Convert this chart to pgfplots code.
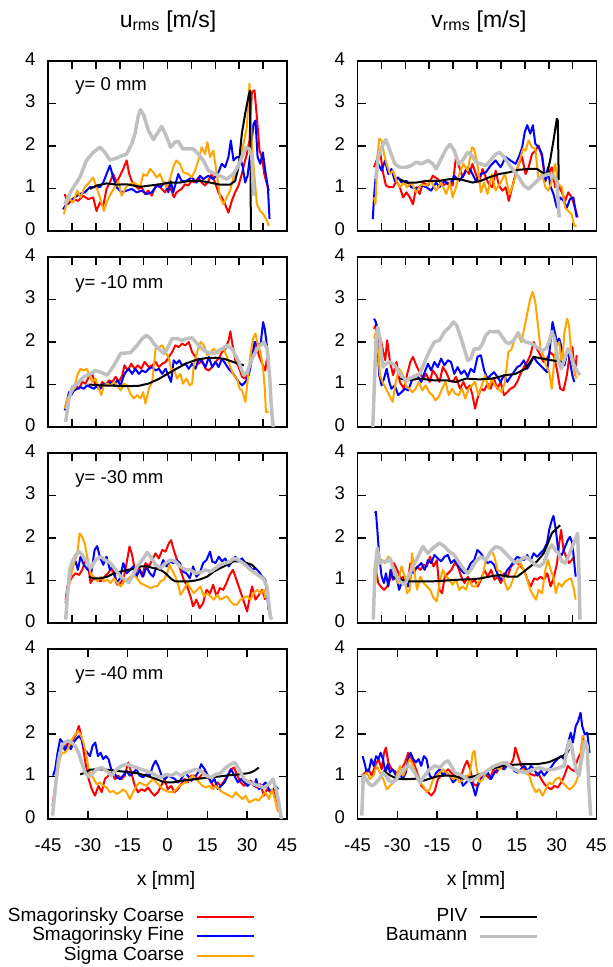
\documentclass[border=0pt]{standalone}
\usepackage{fontspec}
\setmainfont{Liberation Sans}
\usepackage{pgfplots}
\pgfplotsset{compat=1.18}

\definecolor{smcred}{RGB}{255,0,0}
\definecolor{smfblue}{RGB}{0,0,255}
\definecolor{sgcorange}{RGB}{255,165,0}
\definecolor{baugray}{RGB}{192,192,192}

\tikzset{ylab/.style={anchor=west, font=\fontsize{18.5}{20}\selectfont}}

\pgfplotsset{
  panel/.style={
    scale only axis, width=239pt, height=170pt, anchor=north west,
    ymin=0, ymax=4, ytick={0,1,2,3,4},
    tick align=inside, major tick length=8pt,
    axis line style={line width=1.7pt},
    tick style={black, line width=1.6pt},
    tick label style={font=\fontsize{18.5}{20}\selectfont},
    /pgf/number format/assume math mode=true,
    yticklabel style={xshift=-9pt, yshift=2pt},
  },
  upper/.style={panel, xmin=-50, xmax=50, xtick={-40,-30,...,40}, xticklabels={}},
  lower/.style={panel, xmin=-45, xmax=45, xtick={-45,-30,...,45},
    xticklabel style={anchor=base, yshift=-32pt}},
  smc/.style={smcred, line width=2pt, line join=round},
  smf/.style={smfblue, line width=2pt, line join=round},
  sgc/.style={sgcorange, line width=2pt, line join=round},
  piv/.style={black, line width=2pt, line join=round},
  bau/.style={baugray, line width=3.5pt, line join=round},
  leg/.style={
    legend plot pos=right, legend cell align=right,
    legend image code/.code={\draw[##1] (0pt,0pt) -- (57pt,0pt);},
    legend style={draw=none, fill=none, inner sep=0pt, outer sep=0pt,
      font=\fontsize{19}{21}\selectfont, column sep=11pt, row sep=0pt,
      nodes={text height=13.8pt, text depth=5pt, inner sep=0.4pt}},
  },
}

\begin{document}
\begin{tikzpicture}
\useasboundingbox (0pt,0pt) rectangle (613pt,-967pt);

\node[anchor=base, font=\fontsize{23}{26}\selectfont] at (168pt,-27pt) {u\textsubscript{rms} [m/s]};
\node[anchor=base, font=\fontsize{23}{26}\selectfont] at (479pt,-27pt) {v\textsubscript{rms} [m/s]};

% ---------------- y = 0 mm, u_rms ----------------
\begin{axis}[upper, at={(48pt,-61pt)}]
\addplot[smc] coordinates {(-43.0,0.87) (-41.6,0.63) (-39.5,0.75) (-37.4,0.71) (-35.3,0.83) (-33.2,0.75) (-31.1,0.79) (-29.7,0.47) (-28.3,0.67) (-26.9,0.59) (-25.5,0.99) (-24.1,1.14) (-22.7,1.34) (-21.3,1.14) (-19.9,1.30) (-18.5,1.46) (-17.1,1.66) (-16.0,1.34) (-15.0,1.18) (-13.6,1.07) (-12.2,0.99) (-10.8,1.03) (-9.4,0.87) (-8.0,0.95) (-6.6,0.83) (-5.2,1.03) (-3.8,1.10) (-2.4,0.99) (-1.0,0.91) (0.35,1.07) (1.7,0.95) (2.7,0.79) (3.8,0.91) (5.9,0.99) (7.3,1.10) (8.7,1.07) (10.1,1.18) (11.5,1.14) (12.9,1.26) (14.3,1.14) (15.7,1.07) (17.1,1.18) (18.5,1.34) (19.9,1.14) (21.3,0.91) (22.7,0.79) (24.1,0.63) (25.5,0.43) (26.9,0.71) (28.3,0.91) (29.7,1.07) (31.1,1.34) (32.1,1.58) (33.2,1.81) (34.3,2.13) (35.3,3.27) (36.4,3.31) (37.4,2.68) (38.5,1.89) (39.5,1.74) (40.5,1.34) (41.6,1.10) (42.4,0.95)};
\addplot[smf] coordinates {(-43.7,0.51) (-42.3,0.63) (-40.9,0.71) (-38.8,0.79) (-36.7,0.87) (-34.6,0.91) (-32.5,1.03) (-30.4,1.03) (-28.3,1.03) (-26.9,1.14) (-25.5,1.34) (-24.1,1.54) (-22.7,1.26) (-21.3,1.03) (-19.2,0.91) (-17.1,0.95) (-15.0,0.99) (-12.9,0.91) (-10.8,0.95) (-8.7,0.87) (-6.6,0.91) (-4.5,1.07) (-3.1,1.03) (-1.0,1.14) (0.35,0.91) (1.3,1.18) (2.4,0.91) (4.5,1.34) (5.9,1.18) (8.0,1.18) (10.1,1.26) (12.2,1.14) (13.6,1.30) (15.0,1.22) (17.1,1.30) (19.2,1.22) (21.3,1.38) (22.7,1.58) (24.1,1.50) (25.5,1.74) (26.5,2.13) (27.6,1.66) (29.0,1.74) (30.4,1.74) (31.5,1.50) (32.5,1.14) (33.5,1.30) (34.6,1.81) (36.0,2.52) (36.8,2.60) (37.7,1.74) (38.8,1.58) (39.9,1.85) (40.9,1.42) (42.0,1.03) (42.7,0.28)};
\addplot[sgc] coordinates {(-43.4,0.39) (-42.3,0.63) (-40.9,0.75) (-39.5,0.67) (-37.8,0.95) (-36.4,0.79) (-34.6,1.03) (-32.8,1.14) (-31.1,1.26) (-29.7,1.03) (-28.3,0.79) (-26.6,0.47) (-25.2,0.71) (-23.4,0.91) (-22.0,1.03) (-20.6,1.18) (-19.2,0.83) (-17.4,1.03) (-15.7,1.10) (-14.3,1.14) (-12.9,1.10) (-11.5,1.03) (-10.1,1.34) (-8.7,1.30) (-7.3,1.46) (-5.9,1.38) (-4.5,1.26) (-3.1,1.34) (-1.7,1.14) (-0.35,1.03) (1.0,1.22) (2.4,1.50) (3.6,1.66) (5.2,1.58) (6.6,1.38) (8.7,1.34) (10.1,1.26) (11.5,1.42) (12.9,1.66) (14.3,1.97) (15.7,1.81) (16.7,2.09) (17.8,1.74) (19.2,1.89) (20.6,1.34) (22.0,0.79) (23.4,0.63) (24.8,0.79) (26.2,0.95) (27.6,1.26) (29.3,1.50) (30.7,1.74) (31.8,2.05) (33.2,2.45) (34.3,3.47) (35.3,2.05) (36.3,1.34) (37.4,0.63) (38.8,0.47) (40.2,0.39) (41.6,0.24) (42.4,0.12)};
\addplot[piv] coordinates {(-32.5,0.99) (-29.7,1.07) (-25.5,1.12) (-21.3,1.09) (-17.1,1.10) (-11.5,1.04) (-7.3,1.07) (-3.1,1.10) (1.0,1.14) (5.2,1.14) (9.4,1.18) (13.6,1.18) (17.8,1.14) (22.0,1.09) (26.2,1.09) (28.3,1.18) (29.7,1.50) (31.1,2.29) (32.5,2.76) (34.0,3.20) (34.5,3.30) (34.9,0.00)};
\addplot[bau] coordinates {(-43.0,0.63) (-40.2,0.95) (-36.7,1.26) (-33.9,1.66) (-31.1,1.85) (-28.3,1.97) (-26.2,1.85) (-24.1,1.67) (-22.0,1.70) (-19.9,1.75) (-17.1,1.81) (-15.0,2.05) (-13.6,2.29) (-12.2,2.72) (-11.3,2.85) (-9.9,2.72) (-8.0,2.37) (-5.9,2.15) (-4.3,2.29) (-2.4,2.46) (-0.6,2.25) (1.3,1.97) (3.1,2.09) (4.5,2.11) (6.4,1.93) (8.0,1.93) (10.8,1.93) (12.9,1.81) (15.0,1.66) (17.1,1.42) (19.9,1.34) (22.7,1.28) (24.8,1.22) (27.6,1.34) (29.7,1.54) (31.1,1.74) (32.9,1.97) (34.3,1.93) (35.3,1.74) (36.0,0.83)};
\node[ylab] at (rel axis cs:0.1,0.855) {y= 0 mm};
\end{axis}

% ---------------- y = 0 mm, v_rms ----------------
\begin{axis}[upper, at={(357.5pt,-61pt)}]
\addplot[smc] coordinates {(-43.1,1.50) (-42.0,1.66) (-40.6,1.89) (-39.2,1.34) (-38.1,1.07) (-36.7,1.03) (-35.1,1.03) (-33.7,1.18) (-32.3,1.03) (-30.9,0.79) (-29.5,0.91) (-28.1,0.79) (-26.8,0.63) (-25.4,1.03) (-24.0,0.87) (-22.6,1.14) (-20.5,1.07) (-18.5,1.30) (-16.4,1.22) (-14.3,1.07) (-12.2,1.14) (-10.2,1.07) (-8.8,1.74) (-7.4,1.50) (-6.0,1.26) (-4.6,1.46) (-3.3,1.34) (-1.9,1.58) (-0.5,1.34) (0.9,1.14) (2.3,1.46) (3.7,1.26) (5.0,1.10) (6.4,1.03) (7.8,1.42) (9.2,1.07) (10.6,0.95) (12.0,1.03) (13.3,0.71) (14.7,1.03) (16.1,1.34) (17.5,1.58) (18.9,1.74) (20.3,1.34) (21.6,1.50) (23.0,1.81) (24.4,1.89) (25.8,2.01) (27.2,1.74) (28.6,1.18) (29.9,1.34) (31.3,1.50) (32.7,1.03) (34.1,1.07) (35.5,0.91) (36.9,0.71) (38.2,0.91) (39.6,0.79) (41.0,0.55) (42.1,0.32)};
\addplot[smf] coordinates {(-43.6,0.28) (-43.1,0.79) (-42.3,1.34) (-41.3,1.58) (-39.9,1.42) (-38.5,1.66) (-37.1,1.34) (-35.8,1.46) (-34.4,1.18) (-33.0,1.26) (-31.6,1.14) (-29.5,1.18) (-27.5,1.03) (-25.4,0.99) (-23.3,1.07) (-21.2,1.03) (-19.2,0.95) (-17.1,1.14) (-15.7,1.03) (-13.6,1.18) (-11.5,1.07) (-9.5,1.30) (-7.4,1.18) (-5.3,1.34) (-3.9,1.50) (-2.6,1.42) (-0.5,1.18) (1.6,1.34) (3.7,1.38) (5.7,1.54) (7.8,1.66) (9.9,1.50) (12.0,1.74) (14.0,1.66) (16.1,1.58) (17.5,1.74) (18.9,1.97) (20.0,2.33) (21.0,2.49) (22.3,2.29) (23.4,2.49) (24.4,2.05) (25.8,1.97) (27.2,1.81) (28.6,1.18) (29.7,1.50) (30.6,1.07) (32.0,0.87) (33.4,0.55) (34.8,0.79) (36.2,0.71) (37.6,0.55) (38.9,0.75) (40.3,0.79) (41.7,0.32)};
\addplot[sgc] coordinates {(-43.1,0.79) (-42.5,0.63) (-41.7,1.74) (-40.9,2.17) (-39.9,2.13) (-38.9,1.81) (-37.8,1.58) (-36.4,1.34) (-35.1,1.42) (-33.7,1.18) (-32.3,1.03) (-30.6,1.14) (-29.3,1.03) (-27.5,1.14) (-25.4,0.91) (-23.3,1.10) (-21.2,1.07) (-19.2,1.18) (-17.1,0.95) (-15.0,1.14) (-12.9,0.87) (-11.3,1.14) (-10.2,0.79) (-8.8,1.03) (-7.4,1.34) (-5.7,1.58) (-3.9,1.42) (-2.1,1.97) (-1.2,1.93) (0.2,1.58) (1.6,0.91) (3.0,1.14) (4.4,0.87) (6.2,1.34) (7.8,0.95) (9.9,1.14) (11.7,1.34) (13.6,0.87) (15.4,1.14) (17.5,1.58) (19.2,1.93) (20.3,1.89) (21.6,2.13) (23.0,1.97) (24.4,1.93) (25.8,1.18) (27.2,1.34) (28.6,1.03) (29.9,0.95) (31.3,1.18) (32.7,1.58) (34.1,1.10) (35.5,1.03) (36.9,0.55) (38.2,0.47) (39.6,0.39) (40.7,0.12) (41.7,0.12)};
\addplot[piv] coordinates {(-32.3,1.22) (-29.5,1.14) (-25.4,1.14) (-21.2,1.18) (-15.7,1.18) (-11.5,1.22) (-7.4,1.22) (-4.6,1.18) (-1.9,1.14) (1.6,1.18) (5.0,1.26) (9.2,1.34) (13.3,1.38) (17.5,1.44) (21.6,1.46) (25.1,1.46) (27.2,1.38) (29.3,1.34) (30.6,1.66) (32.0,2.13) (33.4,2.64) (33.8,2.60) (34.2,1.20)};
\addplot[bau] coordinates {(-42.3,1.22) (-41.3,1.74) (-39.9,1.97) (-38.1,2.15) (-36.4,1.89) (-34.4,1.58) (-32.3,1.50) (-29.5,1.50) (-27.5,1.54) (-25.4,1.62) (-23.3,1.58) (-20.5,1.66) (-18.5,1.58) (-17.1,1.46) (-15.0,1.70) (-12.9,1.93) (-11.3,2.04) (-9.5,1.89) (-7.7,1.58) (-6.0,1.66) (-3.9,1.85) (-2.1,1.78) (-0.5,1.62) (1.6,1.58) (3.7,1.54) (5.7,1.66) (7.8,1.81) (9.5,1.85) (11.3,1.74) (13.3,1.58) (15.4,1.42) (17.5,1.26) (19.6,1.07) (21.6,0.99) (23.7,1.10) (25.8,1.22) (27.9,1.30) (29.9,1.34) (32.0,1.30) (33.4,1.18) (34.4,0.32)};
\end{axis}

% ---------------- y = -10 mm, u_rms ----------------
\begin{axis}[upper, at={(48pt,-257pt)}]
\addplot[smc] coordinates {(-42.6,0.51) (-41.2,0.75) (-39.8,0.90) (-38.4,0.98) (-37.0,0.90) (-35.7,1.06) (-34.3,1.02) (-32.9,1.18) (-31.5,1.25) (-30.1,0.98) (-28.7,0.90) (-27.3,1.06) (-25.9,0.98) (-24.5,1.10) (-23.1,1.06) (-21.7,1.18) (-20.3,1.06) (-18.9,1.22) (-18.0,1.45) (-16.6,1.33) (-15.2,1.49) (-13.8,1.37) (-12.4,1.45) (-11.0,1.37) (-9.6,1.53) (-7.8,1.41) (-6.4,1.45) (-5.0,1.53) (-3.6,1.41) (-2.2,1.49) (-0.8,1.53) (0.6,1.65) (1.9,1.76) (3.3,1.92) (4.7,1.88) (6.1,1.96) (7.5,1.92) (8.9,2.00) (10.3,1.76) (11.7,1.65) (13.1,1.49) (14.5,1.57) (15.9,1.37) (17.3,1.33) (18.7,1.41) (20.1,1.53) (21.4,1.61) (22.8,1.76) (24.2,1.84) (25.6,2.04) (26.3,2.25) (27.0,2.00) (28.4,1.57) (29.8,1.41) (31.2,1.18) (32.6,1.14) (34.0,1.29) (35.4,1.69) (36.8,2.00) (38.2,1.69) (39.6,1.49) (40.9,1.33) (41.6,1.61)};
\addplot[smf] coordinates {(-43.0,0.39) (-42.2,0.59) (-41.2,0.82) (-40.3,0.75) (-39.1,0.86) (-37.7,0.90) (-36.4,0.94) (-35.0,0.90) (-33.6,0.98) (-32.2,0.94) (-30.8,0.90) (-29.4,0.98) (-28.0,0.90) (-26.6,1.02) (-25.2,0.98) (-23.8,1.06) (-22.4,0.98) (-21.0,1.10) (-19.6,0.98) (-18.2,1.22) (-17.5,1.29) (-16.2,1.37) (-14.8,1.25) (-13.4,1.37) (-12.0,1.25) (-10.6,1.33) (-9.2,1.29) (-7.8,1.37) (-6.4,1.41) (-5.0,1.33) (-3.6,1.37) (-2.2,1.25) (-0.8,1.37) (0.6,1.18) (1.5,1.06) (2.6,1.57) (3.8,1.49) (4.9,1.57) (6.1,1.45) (7.5,1.49) (8.9,1.37) (10.3,1.49) (11.7,1.37) (13.1,1.61) (14.5,1.53) (15.9,1.41) (17.3,1.65) (18.7,1.41) (20.1,1.53) (21.4,1.41) (22.8,1.61) (24.2,1.49) (25.6,1.37) (27.0,1.29) (28.4,1.18) (29.8,1.06) (31.2,0.98) (32.6,1.06) (34.0,1.22) (35.4,1.61) (36.4,2.00) (37.5,1.96) (38.9,1.92) (40.0,2.47) (40.7,2.31) (41.4,2.00) (42.1,1.69) (42.3,1.45)};
\addplot[sgc] coordinates {(-43.0,0.43) (-41.9,0.67) (-40.5,0.78) (-39.1,0.90) (-37.7,1.22) (-36.4,1.37) (-35.0,1.33) (-33.8,1.37) (-32.7,1.22) (-31.5,1.06) (-30.1,1.14) (-28.7,0.90) (-27.7,0.75) (-26.6,0.98) (-25.2,1.02) (-23.8,0.98) (-22.4,1.06) (-21.0,0.98) (-19.6,0.86) (-18.2,1.02) (-16.9,0.98) (-15.5,0.78) (-14.1,0.67) (-12.7,0.75) (-11.3,0.67) (-10.2,0.82) (-9.2,0.55) (-7.8,0.90) (-6.4,1.06) (-5.0,1.84) (-3.6,1.88) (-2.2,1.92) (-0.8,1.76) (0.6,1.61) (1.7,1.33) (2.6,1.37) (4.0,1.14) (5.4,1.25) (6.5,1.02) (7.9,1.14) (9.3,0.98) (10.3,1.02) (11.0,1.45) (12.4,1.76) (13.8,2.00) (15.2,1.92) (16.6,1.69) (18.0,1.76) (19.4,1.84) (20.8,1.73) (22.1,1.80) (23.5,1.84) (24.9,1.65) (26.3,1.41) (27.7,1.22) (29.1,1.14) (30.2,0.90) (31.2,0.86) (32.6,0.59) (33.6,1.14) (34.7,1.69) (35.8,2.08) (36.8,2.20) (37.7,1.96) (38.9,1.76) (40.0,1.37) (40.7,0.90) (41.2,0.35) (42.3,0.35)};
\addplot[piv] coordinates {(-33.0,1.00) (-28.0,0.98) (-22.0,0.97) (-17.0,0.96) (-12.0,0.97) (-8.0,1.02) (-4.0,1.12) (0.0,1.25) (4.0,1.38) (8.0,1.50) (12.0,1.58) (16.0,1.62) (20.0,1.63) (24.0,1.60) (28.0,1.52) (32.0,1.45)};
\addplot[bau] coordinates {(-42.6,0.12) (-41.9,0.39) (-41.2,0.67) (-39.8,0.94) (-37.7,1.02) (-35.0,1.18) (-32.2,1.25) (-30.1,1.33) (-28.0,1.29) (-25.2,1.22) (-22.4,1.45) (-19.6,1.73) (-15.5,1.75) (-12.7,1.92) (-10.6,2.08) (-8.8,2.16) (-7.1,2.08) (-5.7,1.96) (-3.6,1.84) (-1.5,1.73) (-0.1,1.84) (1.9,2.08) (4.0,2.08) (6.1,2.04) (8.2,2.08) (10.3,2.10) (12.4,1.96) (14.5,1.84) (16.6,1.76) (19.4,1.73) (21.4,1.80) (23.5,1.86) (24.9,1.92) (27.0,1.84) (29.8,1.53) (31.9,1.22) (33.3,1.29) (35.4,1.61) (37.5,1.84) (40.3,2.00) (41.7,1.84) (42.8,1.14) (43.3,0.59) (44.2,0.00)};
\node[ylab] at (rel axis cs:0.1,0.84) {y= -10 mm};
\end{axis}

% ---------------- y = -10 mm, v_rms ----------------
\begin{axis}[upper, at={(357.5pt,-257pt)}]
\addplot[smc] coordinates {(-43.1,2.31) (-42.0,2.43) (-41.1,2.00) (-40.3,2.08) (-39.2,1.76) (-38.4,1.57) (-37.6,2.04) (-36.4,1.53) (-35.1,1.22) (-33.7,1.53) (-32.3,1.06) (-30.6,0.90) (-29.3,1.22) (-27.9,1.53) (-26.8,1.65) (-25.4,1.45) (-24.0,1.29) (-22.6,1.14) (-21.2,1.25) (-19.8,1.06) (-18.5,1.33) (-17.1,1.22) (-15.7,1.06) (-14.3,1.41) (-12.9,1.29) (-11.5,1.10) (-10.2,1.06) (-8.8,1.18) (-7.1,0.90) (-5.7,1.06) (-4.4,0.90) (-3.0,0.98) (-1.9,0.75) (-0.8,0.43) (0.2,0.67) (1.6,0.90) (3.0,0.86) (4.4,1.02) (5.7,0.90) (7.1,1.14) (8.5,0.90) (9.9,1.06) (11.3,0.75) (12.7,0.82) (14.0,0.90) (15.4,0.94) (16.8,1.06) (18.2,1.25) (19.6,1.41) (21.0,1.53) (22.3,1.69) (23.7,2.00) (25.1,1.84) (26.5,1.69) (27.9,1.53) (29.3,1.61) (30.6,1.76) (32.0,1.69) (33.4,1.37) (34.8,0.90) (36.2,0.86) (37.6,1.22) (38.9,1.76) (39.9,1.88) (41.0,1.22) (41.7,1.69)};
\addplot[smf] coordinates {(-43.1,2.55) (-42.3,2.47) (-41.7,2.00) (-40.9,1.22) (-39.9,0.98) (-38.9,1.14) (-37.8,1.37) (-36.7,1.06) (-35.8,0.90) (-34.4,0.98) (-33.0,0.75) (-31.6,0.82) (-30.2,0.90) (-28.8,0.86) (-27.5,1.06) (-26.1,1.22) (-24.7,1.18) (-23.3,1.06) (-21.9,1.29) (-20.5,1.49) (-19.2,1.33) (-17.8,1.53) (-16.4,1.41) (-15.0,1.61) (-13.6,1.45) (-12.2,1.57) (-10.9,1.53) (-9.5,1.25) (-8.1,1.41) (-6.7,1.25) (-5.3,1.33) (-3.9,1.18) (-2.6,1.37) (-1.2,1.29) (0.2,1.65) (1.6,1.69) (3.0,1.33) (4.4,1.14) (5.7,1.22) (7.1,1.29) (8.5,1.18) (9.9,1.06) (11.3,1.22) (12.7,1.06) (14.0,1.18) (15.4,1.29) (16.8,1.41) (18.2,1.45) (19.6,1.57) (21.0,1.37) (22.3,1.49) (23.7,1.65) (25.1,1.53) (26.5,1.45) (27.9,1.37) (29.3,1.29) (30.6,1.92) (31.6,2.47) (32.7,2.20) (33.4,2.00) (34.4,2.08) (35.5,1.84) (36.6,1.45) (38.0,1.84) (38.9,1.53) (39.9,1.22) (40.7,1.06)};
\addplot[sgc] coordinates {(-43.1,2.08) (-42.3,2.24) (-41.3,1.73) (-40.6,1.22) (-39.5,1.06) (-38.1,0.90) (-36.7,0.75) (-35.3,0.59) (-34.0,1.06) (-32.6,1.37) (-31.2,1.25) (-29.8,0.98) (-28.4,0.90) (-27.0,0.82) (-25.7,0.90) (-24.3,1.06) (-22.9,0.86) (-21.5,0.98) (-20.1,0.82) (-18.7,0.75) (-17.4,0.63) (-16.0,0.71) (-14.6,0.90) (-13.2,1.06) (-11.8,0.75) (-10.4,0.90) (-9.1,0.78) (-7.7,0.75) (-6.3,0.90) (-4.9,0.67) (-3.5,0.90) (-2.1,0.98) (-0.8,1.06) (0.6,0.75) (2.0,0.98) (3.4,1.22) (4.8,0.90) (6.2,1.14) (7.5,0.98) (8.9,0.90) (10.3,0.82) (11.7,1.06) (13.1,1.76) (14.5,1.84) (15.8,2.08) (17.2,2.16) (18.6,2.00) (20.0,2.39) (21.4,2.78) (22.3,3.02) (23.3,3.18) (24.4,2.94) (25.5,2.39) (26.6,1.84) (27.7,1.69) (28.8,1.45) (30.2,1.29) (31.3,0.90) (32.4,1.61) (33.4,1.92) (34.4,2.00) (35.5,1.37) (36.6,2.24) (37.7,2.55) (38.5,2.39) (39.3,1.84) (40.5,1.37) (41.6,1.14)};
\addplot[piv] coordinates {(-32.3,1.14) (-28.1,1.10) (-24.0,1.14) (-18.5,1.10) (-12.9,1.10) (-8.8,1.06) (-4.6,1.14) (0.9,1.12) (6.4,1.14) (12.0,1.22) (16.1,1.25) (20.3,1.37) (23.7,1.65) (27.2,1.61) (31.3,1.57) (35.5,1.53) (36.9,1.57)};
\addplot[bau] coordinates {(-43.6,0.00) (-43.1,0.75) (-42.3,2.00) (-41.6,2.35) (-40.6,2.08) (-39.5,1.41) (-38.1,1.49) (-36.4,1.53) (-34.4,1.45) (-32.3,1.25) (-29.5,1.10) (-26.8,1.18) (-24.0,1.25) (-21.9,1.53) (-19.8,1.80) (-17.8,2.00) (-15.7,2.04) (-13.6,2.24) (-11.5,2.35) (-9.9,2.47) (-8.5,2.39) (-7.1,2.16) (-5.3,1.84) (-3.9,1.57) (-2.6,1.61) (-1.2,1.84) (0.9,1.84) (2.3,1.96) (3.7,2.16) (5.3,2.25) (7.1,2.24) (8.9,2.25) (10.6,2.12) (12.0,2.00) (13.3,1.96) (15.4,2.04) (17.2,2.22) (18.6,2.08) (20.3,2.00) (23.0,1.96) (25.1,1.88) (27.2,1.80) (28.8,1.84) (30.2,2.00) (31.3,2.24) (32.4,2.08) (33.8,1.61) (35.2,1.37) (36.9,1.65) (38.0,1.84) (38.9,1.76) (40.3,1.49) (41.7,1.33) (43.1,1.22)};
\end{axis}

% ---------------- y = -30 mm, u_rms ----------------
\begin{axis}[upper, at={(48pt,-453pt)}]
\addplot[smc] coordinates {(-42.6,0.55) (-41.9,0.86) (-40.9,0.98) (-39.8,1.09) (-38.4,1.17) (-37.0,1.13) (-35.7,1.25) (-34.3,1.48) (-33.3,1.41) (-32.2,0.94) (-31.1,1.05) (-29.4,1.02) (-28.0,0.98) (-26.3,1.09) (-24.9,1.17) (-23.5,1.29) (-22.1,1.09) (-21.0,0.90) (-19.6,0.94) (-18.2,1.09) (-16.9,1.48) (-15.9,1.80) (-14.8,1.60) (-13.4,1.17) (-12.0,1.33) (-10.6,1.09) (-9.2,1.41) (-7.8,1.33) (-6.4,1.48) (-5.0,1.64) (-3.6,1.52) (-2.2,1.72) (-0.8,1.68) (0.6,1.88) (1.5,1.95) (2.6,1.72) (4.0,1.48) (5.4,1.25) (6.8,1.02) (8.2,0.86) (9.6,0.63) (10.7,0.39) (12.1,0.55) (13.5,0.35) (14.9,0.47) (16.3,0.78) (17.8,0.70) (19.1,0.90) (20.5,0.63) (21.9,0.82) (23.3,0.78) (24.7,0.94) (26.0,1.13) (27.4,1.25) (28.4,1.09) (29.8,0.86) (31.2,0.63) (32.6,0.39) (33.3,0.27) (34.5,0.63) (35.4,0.86) (36.8,0.55) (38.2,0.66) (39.6,0.78) (40.9,0.55)};
\addplot[smf] coordinates {(-42.6,0.47) (-41.9,0.78) (-40.9,1.17) (-39.8,1.33) (-38.4,1.45) (-37.5,1.25) (-36.4,1.56) (-35.0,1.37) (-33.3,1.25) (-31.9,1.17) (-30.5,1.72) (-29.4,1.81) (-28.3,1.56) (-26.9,1.37) (-25.5,1.56) (-24.1,1.25) (-22.7,1.33) (-21.3,0.94) (-19.9,1.05) (-18.5,1.41) (-17.1,1.17) (-15.7,1.25) (-14.3,1.33) (-13.0,1.09) (-11.6,1.25) (-10.2,1.09) (-8.8,1.33) (-7.4,1.17) (-6.0,1.09) (-4.6,1.33) (-3.2,1.25) (-1.8,1.48) (-0.4,1.33) (1.0,1.45) (2.4,1.41) (3.8,1.48) (5.2,1.41) (6.5,1.21) (7.9,1.17) (9.3,1.05) (10.7,1.33) (12.1,1.09) (13.5,1.17) (14.9,1.41) (16.3,1.48) (17.8,1.68) (18.7,1.45) (20.1,1.41) (21.5,1.56) (22.8,1.45) (24.2,1.52) (25.6,1.33) (27.0,1.45) (28.4,1.56) (29.8,1.45) (31.2,1.52) (32.6,1.41) (34.0,1.37) (35.4,1.25) (36.8,1.29) (38.2,1.21) (39.6,1.09) (40.9,1.02) (41.6,0.70) (42.3,0.31)};
\addplot[sgc] coordinates {(-42.6,0.47) (-41.9,0.70) (-40.5,1.09) (-39.1,1.41) (-37.7,1.64) (-36.8,2.11) (-35.7,2.03) (-34.7,1.88) (-33.6,1.56) (-32.2,1.17) (-30.8,1.09) (-29.4,0.98) (-28.0,1.09) (-26.6,0.98) (-25.2,1.02) (-23.8,0.94) (-22.4,1.05) (-21.0,0.94) (-19.6,0.86) (-18.2,0.98) (-16.9,1.02) (-15.5,1.09) (-14.1,1.13) (-12.7,1.05) (-11.3,0.94) (-9.9,0.90) (-8.5,0.86) (-7.1,0.82) (-5.7,0.86) (-4.3,0.86) (-2.9,0.98) (-1.5,1.02) (-0.1,1.17) (0.8,1.37) (1.9,1.25) (3.3,1.09) (4.7,0.86) (5.4,0.66) (6.8,0.78) (8.2,0.94) (9.6,0.82) (11.0,0.70) (12.4,0.78) (13.8,0.86) (15.2,0.63) (16.6,0.70) (18.0,0.63) (19.4,0.55) (20.8,0.66) (22.1,0.55) (23.5,0.59) (24.9,0.63) (26.3,0.51) (27.7,0.43) (29.1,0.43) (30.5,0.55) (31.9,0.59) (33.3,0.63) (34.7,0.55) (36.1,0.70) (37.5,0.78) (38.9,0.70) (40.3,0.78) (40.9,0.59)};
\addplot[piv] coordinates {(-32.9,1.09) (-30.8,1.05) (-28.0,1.05) (-25.2,1.09) (-22.4,1.17) (-19.6,1.21) (-16.9,1.25) (-14.1,1.27) (-11.3,1.33) (-8.5,1.33) (-5.7,1.29) (-2.9,1.25) (-0.8,1.17) (0.6,1.09) (2.0,1.02) (3.3,0.98) (6.1,0.98) (8.9,0.98) (11.7,1.00) (13.8,1.03) (16.6,1.09) (19.4,1.21) (22.1,1.29) (24.9,1.37) (27.7,1.45) (30.5,1.45) (33.3,1.41) (35.4,1.37) (36.8,1.29)};
\addplot[bau] coordinates {(-42.6,0.08) (-41.9,0.63) (-40.9,1.25) (-39.8,1.45) (-38.4,1.60) (-37.0,1.68) (-35.7,1.60) (-33.8,1.45) (-32.2,1.29) (-30.1,1.48) (-28.0,1.56) (-25.9,1.48) (-23.8,1.41) (-21.7,1.25) (-19.6,1.09) (-17.5,1.02) (-16.2,0.95) (-14.8,1.09) (-12.7,1.33) (-10.6,1.48) (-8.5,1.66) (-7.1,1.56) (-5.0,1.37) (-2.9,1.29) (-0.8,1.41) (1.3,1.48) (3.3,1.45) (5.4,1.33) (7.5,1.25) (9.6,1.25) (11.7,1.17) (13.8,1.19) (15.9,1.25) (18.0,1.21) (20.1,1.29) (22.1,1.37) (24.2,1.41) (26.3,1.45) (27.7,1.52) (29.1,1.50) (30.5,1.45) (32.6,1.37) (34.7,1.25) (36.8,1.17) (38.9,1.09) (40.3,1.02) (41.6,0.86) (43.0,0.16) (43.7,0.08)};
\node[ylab] at (rel axis cs:0.1,0.85) {y= -30 mm};
\end{axis}

% ---------------- y = -30 mm, v_rms ----------------
\begin{axis}[upper, at={(357.5pt,-453pt)}]
\addplot[smc] coordinates {(-43.1,1.09) (-42.3,1.25) (-41.3,0.94) (-40.3,0.86) (-38.9,0.78) (-37.6,0.86) (-36.2,1.05) (-34.8,1.41) (-33.4,1.25) (-32.0,1.05) (-30.6,1.09) (-29.3,0.86) (-27.9,1.41) (-26.5,1.17) (-25.1,1.33) (-23.7,1.25) (-22.3,1.37) (-21.0,1.33) (-19.6,1.56) (-18.2,1.33) (-16.8,1.48) (-15.7,0.78) (-14.6,0.70) (-13.5,1.09) (-12.1,1.17) (-10.7,1.25) (-9.3,1.41) (-8.0,1.33) (-6.6,1.09) (-5.2,0.94) (-3.8,1.09) (-2.4,0.94) (-1.0,1.02) (0.3,0.86) (1.7,1.02) (3.1,1.25) (4.5,1.09) (5.9,1.25) (7.3,1.02) (8.6,1.09) (10.0,0.94) (11.4,1.17) (12.8,1.09) (14.2,1.33) (15.6,1.41) (16.9,1.41) (18.3,1.33) (19.7,1.25) (21.1,1.02) (22.5,0.86) (23.9,1.05) (25.2,1.02) (26.6,1.09) (28.0,1.02) (29.4,1.17) (30.8,0.86) (32.2,1.09) (33.5,1.41) (34.4,1.88) (35.2,2.19) (36.2,1.72) (37.3,1.56) (38.5,1.41) (39.6,1.48) (40.7,1.56)};
\addplot[smf] coordinates {(-42.7,2.58) (-42.3,2.62) (-41.7,2.19) (-40.9,1.56) (-39.9,1.09) (-38.9,0.94) (-38.1,1.17) (-37.1,0.86) (-36.2,1.25) (-35.1,1.02) (-33.7,1.09) (-32.6,0.78) (-31.6,0.94) (-30.2,1.09) (-28.8,0.86) (-27.5,1.17) (-26.1,1.25) (-24.7,1.33) (-23.3,1.41) (-21.9,1.25) (-20.5,1.48) (-19.2,1.41) (-17.8,1.60) (-16.4,1.52) (-15.0,1.45) (-13.6,1.56) (-12.2,1.60) (-10.9,1.41) (-9.5,1.48) (-8.1,1.37) (-6.7,1.25) (-5.3,1.17) (-3.9,1.25) (-2.6,1.41) (-1.2,1.48) (0.2,1.72) (1.6,1.64) (3.0,1.52) (4.4,1.41) (5.7,1.45) (7.1,1.37) (8.5,1.17) (9.9,1.02) (11.3,1.09) (12.7,1.25) (14.0,1.33) (15.4,1.45) (16.8,1.56) (18.2,1.52) (19.6,1.48) (21.0,1.60) (22.3,1.45) (23.7,1.64) (25.1,1.56) (26.5,1.64) (27.9,1.72) (29.3,1.88) (30.2,2.19) (31.3,2.42) (32.0,2.52) (33.0,2.19) (34.1,1.64) (35.5,1.60) (36.9,1.80) (38.0,1.95) (38.9,2.03) (39.9,1.88) (40.7,1.41) (41.3,1.09)};
\addplot[sgc] coordinates {(-43.1,0.70) (-42.3,1.09) (-41.3,1.56) (-39.9,1.48) (-38.5,1.41) (-37.1,1.56) (-35.8,1.48) (-34.4,1.09) (-33.0,0.94) (-31.6,1.33) (-30.2,1.09) (-29.3,0.70) (-28.1,0.78) (-27.2,1.64) (-26.1,1.17) (-25.1,0.78) (-23.7,1.09) (-22.3,0.94) (-21.0,0.86) (-19.6,0.78) (-18.2,0.59) (-16.8,0.51) (-15.7,0.94) (-14.3,1.25) (-12.9,1.09) (-11.5,1.02) (-10.2,0.90) (-8.8,1.02) (-7.4,0.78) (-6.0,0.86) (-4.6,0.78) (-3.3,1.02) (-1.9,0.86) (-0.5,0.86) (0.9,0.98) (2.3,1.09) (3.7,1.48) (5.0,1.64) (6.2,1.68) (7.3,1.56) (8.5,1.25) (9.9,1.21) (11.3,1.02) (12.7,0.78) (14.0,0.86) (15.4,1.09) (16.8,1.25) (18.2,1.41) (19.6,1.25) (21.0,1.02) (22.3,0.78) (23.7,0.63) (24.7,0.55) (25.8,0.78) (27.2,0.70) (28.6,1.25) (29.7,1.48) (30.8,1.25) (31.9,1.09) (33.0,0.70) (34.1,0.94) (35.5,0.86) (36.9,0.98) (38.2,1.02) (39.3,1.05) (40.3,0.86) (41.3,0.55)};
\addplot[piv] coordinates {(-35.1,1.09) (-32.3,1.02) (-28.1,0.98) (-24.0,0.98) (-18.5,0.98) (-12.9,1.00) (-7.4,1.02) (-1.9,1.03) (1.6,1.05) (5.0,1.09) (9.2,1.13) (13.3,1.09) (16.8,1.09) (19.6,1.21) (22.3,1.33) (25.1,1.45) (27.9,1.64) (29.7,1.88) (31.3,2.11) (33.4,2.23) (34.8,2.30)};
\addplot[bau] coordinates {(-43.4,0.08) (-42.7,1.25) (-41.7,1.76) (-40.6,1.41) (-39.2,1.45) (-37.8,1.45) (-36.4,1.52) (-35.1,1.29) (-33.7,1.09) (-32.3,0.98) (-30.2,0.90) (-28.8,1.09) (-26.8,1.33) (-24.7,1.56) (-22.6,1.80) (-20.5,1.64) (-18.5,1.76) (-15.7,1.88) (-13.6,1.80) (-11.5,1.68) (-9.5,1.60) (-7.4,1.41) (-5.3,1.25) (-3.9,1.17) (-2.6,1.25) (-0.5,1.45) (1.6,1.56) (3.7,1.48) (5.7,1.68) (7.8,1.80) (9.9,1.76) (12.0,1.64) (14.0,1.52) (16.1,1.41) (18.2,1.48) (20.3,1.56) (22.3,1.48) (24.4,1.37) (26.1,1.33) (27.9,1.41) (29.9,1.72) (31.3,1.84) (32.7,1.72) (34.1,1.64) (35.5,1.45) (36.9,1.41) (38.2,1.56) (39.6,1.76) (41.0,1.95) (42.1,2.11) (42.7,1.09) (43.1,0.08)};
\end{axis}

% ---------------- y = -40 mm, u_rms ----------------
\begin{axis}[lower, leg, at={(48pt,-649pt)},
  legend style={at={(0.865,-0.518)}, anchor=north east}]
\addplot[smc] coordinates {(-43.3,0.31) (-42.6,0.63) (-41.6,1.09) (-40.6,1.56) (-39.8,1.72) (-38.9,1.64) (-37.9,1.80) (-36.6,1.72) (-35.4,1.88) (-34.4,1.99) (-33.4,2.19) (-32.7,2.03) (-31.7,1.64) (-30.7,1.25) (-29.7,0.94) (-28.5,0.70) (-27.3,0.55) (-26.0,0.78) (-24.8,0.63) (-23.6,0.94) (-22.3,1.02) (-21.1,1.09) (-19.8,0.94) (-18.6,1.02) (-17.3,0.94) (-16.1,1.02) (-14.8,1.33) (-13.6,1.09) (-12.3,0.78) (-11.1,0.63) (-9.8,0.70) (-8.6,0.66) (-7.3,0.74) (-6.1,0.63) (-4.9,0.55) (-3.6,0.63) (-2.4,0.78) (-1.1,0.94) (0.1,0.70) (1.4,0.78) (2.6,0.63) (3.9,0.70) (5.1,0.82) (6.4,0.94) (7.6,0.86) (8.9,1.02) (10.1,1.02) (11.4,0.94) (12.6,1.02) (13.9,1.13) (15.1,1.02) (16.4,0.86) (17.6,0.74) (18.8,0.86) (20.1,0.78) (21.4,0.90) (22.6,1.02) (23.8,1.17) (25.1,1.21) (26.3,1.02) (27.6,0.86) (28.9,0.78) (30.1,0.82) (31.4,0.90) (32.6,0.78) (33.8,0.74) (35.0,0.82) (36.3,0.55) (37.5,0.70) (38.8,0.63) (40.0,0.70) (41.3,0.43) (42.5,0.16)};
\addlegendentry{Smagorinsky Coarse}
\addplot[smf] coordinates {(-43.1,1.02) (-42.3,1.17) (-41.4,1.56) (-40.4,1.88) (-39.4,1.80) (-38.4,1.60) (-37.4,1.76) (-36.4,1.64) (-35.4,1.80) (-34.4,1.88) (-33.4,1.95) (-32.4,1.88) (-31.4,1.64) (-30.2,1.56) (-29.2,1.48) (-28.2,1.72) (-27.2,1.80) (-26.2,1.48) (-25.2,1.56) (-24.2,1.41) (-23.2,1.48) (-22.2,1.41) (-21.2,1.17) (-20.2,1.13) (-19.2,0.98) (-17.9,0.94) (-16.7,1.02) (-15.4,1.13) (-14.2,1.02) (-13.0,1.09) (-11.7,1.17) (-10.5,1.02) (-9.2,0.98) (-8.0,1.05) (-6.7,1.02) (-5.5,1.25) (-4.5,1.37) (-3.5,1.25) (-2.2,1.02) (-1.0,0.94) (0.3,1.02) (1.5,0.98) (2.8,0.94) (4.0,0.86) (5.2,0.94) (6.5,1.09) (7.7,1.02) (9.0,0.90) (10.2,0.98) (11.5,1.09) (12.7,1.29) (14.0,1.17) (15.2,1.02) (16.5,0.86) (17.7,0.94) (19.0,0.70) (20.2,0.78) (21.5,0.86) (22.7,1.02) (24.0,1.17) (25.2,1.02) (26.5,0.86) (27.7,0.94) (29.0,0.86) (30.2,0.78) (31.5,0.86) (32.7,0.78) (33.4,0.94) (34.4,0.70) (35.7,0.78) (36.9,0.86) (38.2,0.70) (39.4,0.63) (40.7,0.78) (41.7,0.70)};
\addlegendentry{Smagorinsky Fine}
\addplot[sgc] coordinates {(-43.3,0.16) (-42.5,0.63) (-41.6,1.02) (-40.6,1.41) (-39.6,1.56) (-38.6,1.56) (-37.6,1.64) (-36.6,1.80) (-35.6,1.91) (-34.7,1.99) (-33.7,2.07) (-32.7,1.99) (-31.7,1.80) (-30.7,1.56) (-29.7,1.17) (-28.7,1.02) (-27.7,0.94) (-26.7,0.82) (-25.4,0.86) (-24.2,0.78) (-22.9,0.74) (-21.7,0.63) (-20.4,0.66) (-19.2,0.59) (-17.9,0.63) (-16.7,0.70) (-15.4,0.63) (-14.2,0.47) (-13.0,0.63) (-11.7,0.78) (-10.5,0.86) (-9.2,0.82) (-8.0,0.78) (-6.7,0.86) (-5.5,0.94) (-4.2,0.86) (-3.0,0.78) (-1.7,0.70) (-0.5,0.66) (0.8,0.63) (2.0,0.63) (3.3,0.70) (4.5,0.78) (5.7,0.82) (7.0,0.86) (8.2,0.94) (9.5,1.02) (10.7,0.94) (12.0,0.86) (13.2,0.78) (14.5,0.74) (15.7,0.78) (17.0,0.70) (18.2,0.78) (19.5,0.70) (20.7,0.63) (22.0,0.59) (23.2,0.55) (24.5,0.51) (25.7,0.63) (26.9,0.55) (28.2,0.47) (29.4,0.55) (30.7,0.39) (31.9,0.43) (33.2,0.47) (34.4,0.43) (35.7,0.55) (36.9,0.63) (38.2,0.47) (39.4,0.70) (40.4,0.47) (41.3,0.23) (41.9,0.16)};
\addlegendentry{Sigma Coarse}
\addplot[piv, forget plot] coordinates {(-32.9,1.05) (-31.0,1.09) (-29.2,1.16) (-26.7,1.17) (-22.9,1.16) (-19.2,1.13) (-15.4,1.11) (-11.7,1.08) (-8.0,1.02) (-4.2,0.94) (-1.1,0.86) (2.0,0.86) (5.1,0.90) (8.2,0.92) (12.0,0.95) (15.7,0.98) (19.5,1.00) (23.2,1.03) (27.0,1.05) (30.7,1.08) (32.6,1.13) (34.4,1.21)};
\addplot[bau, forget plot] coordinates {(-43.3,0.08) (-42.3,0.70) (-41.0,1.41) (-39.8,1.72) (-38.5,1.81) (-37.3,1.84) (-36.0,1.80) (-34.8,1.72) (-33.5,1.56) (-32.3,1.33) (-31.0,1.09) (-29.8,1.00) (-28.5,1.05) (-26.7,1.17) (-24.8,1.21) (-22.9,1.13) (-21.1,1.02) (-19.2,1.17) (-17.3,1.25) (-15.4,1.29) (-13.6,1.25) (-11.7,1.21) (-9.8,1.17) (-8.0,1.13) (-6.1,1.09) (-4.2,1.02) (-2.4,0.98) (-0.5,1.05) (1.4,1.02) (3.3,1.09) (5.1,1.02) (7.0,1.09) (8.9,1.13) (10.7,1.17) (12.6,1.13) (14.5,1.02) (16.4,0.98) (18.2,1.05) (20.1,1.09) (22.0,1.21) (23.8,1.29) (25.4,1.33) (26.9,1.17) (28.9,0.94) (30.7,0.86) (32.6,0.82) (34.4,0.78) (36.3,0.74) (38.2,0.82) (39.7,0.94) (40.9,0.70) (41.9,0.39) (42.9,0.00)};
\node[ylab] at (rel axis cs:0.1,0.85) {y= -40 mm};
\end{axis}

% ---------------- y = -40 mm, v_rms ----------------
\begin{axis}[lower, leg, at={(357.5pt,-649pt)},
  legend style={at={(0.76,-0.518)}, anchor=north east}]
\addplot[smc, forget plot] coordinates {(-43.4,1.02) (-42.1,1.09) (-40.9,1.17) (-39.6,1.02) (-38.4,1.25) (-37.1,1.41) (-35.9,1.17) (-35.0,1.56) (-34.3,1.68) (-33.4,1.33) (-32.1,1.17) (-30.9,1.13) (-29.6,1.02) (-28.4,1.17) (-27.1,1.33) (-25.9,1.56) (-24.7,1.41) (-23.4,1.25) (-22.2,1.02) (-20.9,0.78) (-19.7,0.70) (-18.4,0.63) (-17.2,0.55) (-15.9,0.66) (-14.7,0.94) (-13.4,1.02) (-12.2,1.09) (-10.9,1.17) (-9.7,1.09) (-8.4,1.02) (-7.2,0.94) (-5.9,1.02) (-4.7,1.25) (-3.7,1.37) (-2.6,1.17) (-1.3,0.82) (-0.1,0.78) (1.2,0.94) (2.4,1.05) (3.7,1.02) (4.9,0.94) (6.2,1.17) (7.4,1.09) (8.7,1.25) (9.9,1.17) (11.2,1.33) (12.4,1.25) (13.7,1.41) (14.4,1.68) (15.4,1.48) (16.7,1.25) (17.9,1.17) (19.2,1.13) (20.4,1.05) (21.7,1.02) (23.0,1.09) (24.2,0.94) (25.4,0.82) (26.7,0.74) (27.9,0.70) (29.2,0.78) (30.4,0.74) (31.7,0.86) (32.9,1.02) (34.2,1.25) (35.4,1.17) (36.6,1.13) (37.9,1.41) (39.1,1.56) (39.9,1.95) (40.6,1.72)};
\addplot[smf, forget plot] coordinates {(-43.1,1.48) (-42.4,1.33) (-41.5,1.09) (-40.6,1.17) (-39.8,1.41) (-38.9,1.25) (-38.0,1.48) (-37.1,1.41) (-36.3,1.56) (-35.4,1.41) (-34.5,1.09) (-33.6,1.29) (-32.8,1.09) (-31.8,1.17) (-30.5,1.02) (-29.3,1.09) (-28.0,0.94) (-26.8,1.09) (-25.9,1.41) (-25.0,1.56) (-24.0,1.41) (-23.0,1.33) (-22.0,1.41) (-21.0,1.25) (-20.0,1.48) (-19.0,1.41) (-17.8,1.02) (-16.5,0.94) (-15.3,1.09) (-14.0,1.17) (-12.8,1.02) (-11.5,1.09) (-10.3,1.02) (-9.0,0.86) (-7.8,0.94) (-6.5,1.02) (-5.3,0.78) (-4.1,0.86) (-2.8,0.94) (-1.6,0.78) (-0.6,0.55) (0.3,0.78) (1.6,0.94) (2.8,1.02) (4.1,1.09) (5.3,0.94) (6.6,1.09) (7.8,1.17) (9.1,1.25) (10.3,1.17) (11.6,1.29) (12.8,1.25) (14.1,1.13) (15.3,1.09) (16.5,1.17) (17.8,1.25) (19.1,1.13) (20.3,1.25) (21.6,1.17) (22.8,1.02) (24.1,1.13) (25.3,1.02) (26.6,1.13) (27.8,1.21) (29.1,1.33) (30.3,1.41) (31.5,1.48) (32.8,1.41) (34.0,1.72) (35.3,2.03) (36.1,1.80) (37.2,2.19) (38.1,2.30) (39.0,2.50) (39.6,2.19) (40.6,1.99) (41.5,2.03) (42.4,1.56)};
\addplot[sgc, forget plot] coordinates {(-43.4,0.86) (-42.5,1.02) (-41.5,1.09) (-40.3,0.94) (-39.0,1.02) (-37.8,1.25) (-36.5,1.09) (-35.3,0.94) (-34.0,0.70) (-32.8,0.78) (-31.5,0.86) (-30.3,1.02) (-29.0,1.25) (-27.8,1.02) (-26.5,1.21) (-25.3,1.41) (-24.0,1.25) (-22.8,1.02) (-21.5,0.86) (-20.3,0.78) (-19.0,0.63) (-17.8,0.70) (-16.5,0.94) (-15.3,1.02) (-14.0,1.09) (-12.8,1.17) (-11.5,1.09) (-10.3,1.02) (-9.0,0.94) (-7.8,0.98) (-6.5,0.86) (-5.3,0.94) (-4.1,1.02) (-2.8,1.02) (-1.6,1.56) (-0.9,1.60) (-0.3,1.25) (0.9,0.86) (2.2,0.94) (3.4,1.09) (4.7,1.17) (5.9,1.25) (7.2,1.21) (8.4,1.17) (9.7,1.25) (10.9,1.29) (12.2,1.25) (13.4,1.21) (14.7,1.13) (15.9,1.09) (17.2,1.17) (18.4,1.09) (19.7,1.02) (20.9,0.78) (22.2,0.63) (23.4,0.70) (24.7,0.55) (25.9,0.70) (27.2,0.86) (28.4,0.82) (29.7,0.94) (30.9,0.98) (32.2,0.86) (33.4,0.78) (34.7,0.70) (35.9,0.74) (37.2,0.86) (38.1,1.02) (39.0,1.41) (39.6,1.91) (40.3,1.95)};
\addplot[piv] coordinates {(-35.3,1.13) (-32.8,1.03) (-30.3,0.95) (-27.8,0.94) (-25.3,0.94) (-22.8,0.95) (-20.3,0.90) (-17.8,0.95) (-15.3,1.00) (-12.8,1.02) (-10.3,1.02) (-7.8,1.00) (-5.3,0.95) (-2.8,0.98) (-0.3,1.02) (2.2,1.08) (4.7,1.16) (7.2,1.21) (9.7,1.25) (12.2,1.27) (14.7,1.28) (17.2,1.29) (19.7,1.29) (22.2,1.29) (24.7,1.31) (27.2,1.34) (29.7,1.41) (32.2,1.48) (34.0,1.56) (34.7,1.64)};
\addlegendentry{PIV}
\addplot[bau] coordinates {(-43.4,0.08) (-42.8,1.02) (-41.8,0.94) (-40.5,0.82) (-39.3,0.78) (-38.0,0.86) (-36.8,0.94) (-35.5,1.09) (-34.3,1.02) (-33.0,0.90) (-31.8,0.86) (-30.3,0.94) (-28.8,1.09) (-27.1,1.21) (-25.3,1.25) (-23.4,1.09) (-21.5,0.86) (-19.7,1.02) (-17.8,1.17) (-15.9,1.25) (-14.0,1.21) (-12.2,1.33) (-10.9,1.37) (-9.7,1.25) (-8.4,1.09) (-6.5,1.05) (-4.7,0.98) (-2.8,0.90) (-0.9,0.94) (0.9,1.02) (2.8,1.09) (4.7,1.17) (6.6,1.25) (8.4,1.29) (10.3,1.33) (12.2,1.25) (14.1,1.17) (15.9,1.13) (17.8,1.09) (19.7,1.13) (21.6,1.17) (23.4,1.21) (25.3,1.17) (27.2,1.16) (29.1,1.17) (30.9,1.21) (32.8,1.25) (33.8,1.60) (34.7,1.84) (35.6,1.72) (36.5,1.41) (37.4,1.13) (38.4,1.02) (39.6,1.48) (40.6,1.84) (41.5,1.72) (42.1,0.78) (42.8,0.08)};
\addlegendentry{Baumann}
\end{axis}

\node[anchor=base, font=\fontsize{19.5}{22}\selectfont] at (166pt,-885pt) {x [mm]};
\node[anchor=base, font=\fontsize{19.5}{22}\selectfont] at (476pt,-885pt) {x [mm]};
\end{tikzpicture}
\end{document}
